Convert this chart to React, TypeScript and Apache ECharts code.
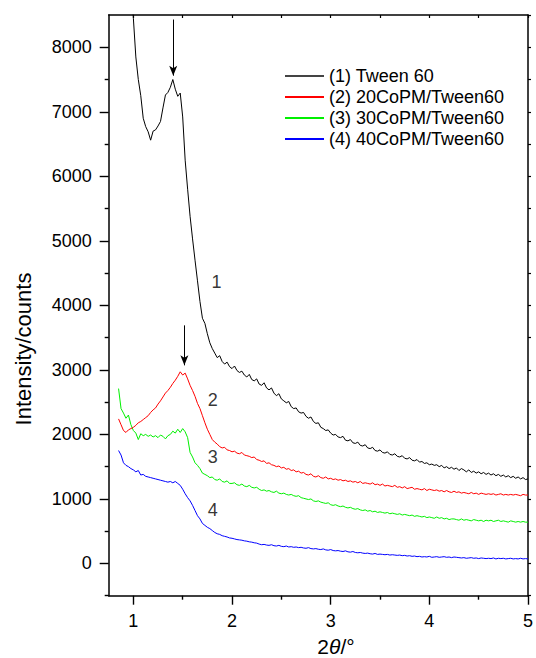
import React, { useEffect, useRef } from "react";
import * as echarts from "echarts";

// Scan grid (2θ in degrees): first point and step
const TWO_THETA_START = 0.85;
const TWO_THETA_STEP = 0.025;

const SERIES_NAMES = [
  "(1) Tween 60",
  "(2) 20CoPM/Tween60",
  "(3) 30CoPM/Tween60",
  "(4) 40CoPM/Tween60",
];
const SERIES_COLORS = ["#000000", "#ff0000", "#00f000", "#0000ff"];

const tween60 = [
  13000, 12200, 11400, 10600, 9800, 9100, 8450, 7850, 7500, 7250,
  6900, 6770, 6690, 6560, 6700, 6720, 6780, 6850, 7060, 7260,
  7300, 7380, 7500, 7350, 7240, 7290, 6920, 6250, 5800, 5380,
  5030, 4700, 4380, 4060, 3800, 3720, 3560, 3420, 3330, 3260,
  3190, 3220, 3130, 3090, 3120, 3050, 3020, 3060, 2990, 2960,
  2980, 2920, 2890, 2930, 2850, 2830, 2860, 2780, 2760, 2800,
  2720, 2690, 2720, 2640, 2600, 2630, 2550, 2520, 2490, 2510,
  2430, 2400, 2410, 2350, 2330, 2340, 2280, 2250, 2270, 2200,
  2170, 2180, 2110, 2090, 2060, 2070, 2020, 1990, 2000, 1960,
  1950, 1970, 1910, 1900, 1920, 1870, 1860, 1880, 1830, 1820,
  1840, 1790, 1780, 1800, 1750, 1740, 1760, 1720, 1710, 1730,
  1690, 1680, 1700, 1660, 1650, 1670, 1630, 1620, 1640, 1600,
  1590, 1610, 1570, 1580, 1550, 1560, 1530, 1540, 1520, 1530,
  1500, 1520, 1480, 1500, 1470, 1490, 1460, 1480, 1440, 1470,
  1450, 1420, 1450, 1410, 1430, 1400, 1420, 1390, 1410, 1380,
  1400, 1370, 1390, 1360, 1380, 1350, 1370, 1340, 1360, 1330,
  1350, 1320, 1340, 1310, 1330, 1300, 1310,
];

const copm20 = [
  2240, 2150, 2060, 2030, 2070, 2090, 2110, 2140, 2180, 2200,
  2230, 2260, 2290, 2340, 2380, 2410, 2470, 2520, 2580, 2640,
  2680, 2730, 2790, 2840, 2900, 2970, 2920, 2950, 2860, 2760,
  2680, 2590, 2480, 2400, 2290, 2180, 2080, 2000, 1920, 1880,
  1850, 1810, 1790, 1800, 1760, 1750, 1730, 1740, 1710, 1700,
  1720, 1680, 1670, 1660, 1640, 1650, 1610, 1600, 1580, 1590,
  1550, 1560, 1530, 1520, 1500, 1510, 1480, 1490, 1460, 1470,
  1440, 1450, 1420, 1430, 1400, 1410, 1380, 1370, 1390, 1350,
  1340, 1360, 1330, 1320, 1340, 1310, 1320, 1300, 1310, 1290,
  1300, 1280, 1290, 1270, 1280, 1260, 1270, 1250, 1270, 1240,
  1250, 1240, 1230, 1250, 1220, 1230, 1210, 1230, 1200, 1210,
  1200, 1190, 1210, 1180, 1190, 1170, 1190, 1160, 1170, 1180,
  1150, 1160, 1150, 1140, 1160, 1130, 1150, 1140, 1130, 1140,
  1120, 1130, 1110, 1130, 1110, 1100, 1120, 1100, 1110, 1090,
  1100, 1090, 1080, 1100, 1080, 1090, 1070, 1090, 1080, 1070,
  1080, 1070, 1080, 1060, 1070, 1080, 1060, 1070, 1060, 1070,
  1060, 1070, 1060, 1050, 1070, 1060, 1060,
];

const copm30 = [
  2710, 2400, 2330, 2250, 2300, 2150, 2060, 2020, 1920, 2010,
  1980, 2000, 1970, 1990, 1960, 1980, 1950, 1990, 1970, 1930,
  1980, 2000, 2050, 2020, 2080, 2030, 2090, 2040, 1950, 1720,
  1650, 1560, 1520, 1470, 1400, 1380, 1360, 1330, 1340, 1300,
  1290, 1310, 1270, 1260, 1280, 1240, 1240, 1250, 1220, 1210,
  1230, 1200, 1190, 1210, 1180, 1170, 1180, 1150, 1130, 1140,
  1120, 1130, 1110, 1100, 1120, 1090, 1080, 1090, 1070, 1060,
  1070, 1050, 1040, 1050, 1020, 1010, 1000, 990, 1000, 970,
  960, 970, 950, 940, 930, 940, 910, 900, 910, 890,
  880, 890, 870, 860, 870, 850, 840, 850, 830, 820,
  830, 810, 820, 800, 810, 790, 800, 790, 780, 790,
  770, 780, 770, 760, 770, 750, 760, 750, 740, 750,
  730, 740, 730, 720, 730, 710, 720, 710, 700, 720,
  700, 710, 690, 700, 680, 690, 690, 680, 670, 690,
  670, 680, 670, 660, 680, 670, 660, 670, 650, 670,
  660, 670, 650, 660, 670, 650, 660, 650, 640, 660,
  650, 640, 650, 640, 650, 640, 640,
];

const copm40 = [
  1750, 1680, 1560, 1520, 1500, 1470, 1450, 1420, 1440, 1370,
  1380, 1350, 1340, 1330, 1320, 1310, 1300, 1290, 1280, 1270,
  1260, 1270, 1250, 1270, 1240, 1210, 1150, 1080, 1020, 970,
  900, 820, 740, 690, 620, 590, 560, 540, 510, 480,
  460, 450, 430, 420, 410, 395, 390, 380, 370, 365,
  360, 350, 345, 335, 330, 320, 315, 300, 290, 295,
  285, 280, 290, 275, 270, 280, 265, 260, 270, 255,
  260, 250, 255, 245, 250, 240, 235, 245, 230, 225,
  230, 220, 215, 225, 210, 205, 215, 200, 195, 200,
  190, 185, 195, 180, 175, 185, 170, 165, 170, 160,
  155, 160, 150, 145, 155, 140, 145, 140, 135, 140,
  130, 135, 130, 125, 130, 120, 125, 115, 120, 110,
  115, 105, 110, 100, 105, 100, 110, 95, 100, 105,
  95, 100, 105, 95, 100, 90, 100, 95, 90, 85,
  90, 80, 85, 90, 80, 85, 75, 85, 80, 75,
  80, 75, 85, 70, 80, 75, 80, 70, 75, 80,
  70, 75, 70, 80, 70, 75, 70,
];

const SERIES_VALUES = [tween60, copm20, copm30, copm40];

// Axis settings
const X_MIN = 0.75;
const X_MAX = 5;
const X_MAJOR = [1, 2, 3, 4, 5];
const X_MINOR = [1.5, 2.5, 3.5, 4.5];
const X_ALL = [1, 1.5, 2, 2.5, 3, 3.5, 4, 4.5, 5];
const Y_MIN = -500;
const Y_MAX = 8500;
const Y_MAJOR = [0, 1000, 2000, 3000, 4000, 5000, 6000, 7000, 8000];
const Y_MINOR = [-500, 500, 1500, 2500, 3500, 4500, 5500, 6500, 7500];
const Y_ALL = [-500, 0, 500, 1000, 1500, 2000, 2500, 3000, 3500, 4000, 4500, 5000, 5500, 6000, 6500, 7000, 7500, 8000, 8500];

// Annotations (data coordinates)
const ARROWS = [
  { x: 1.404, from: 8430, to: 7560 },
  { x: 1.517, from: 3690, to: 3070 },
];
const CURVE_LABELS = [
  { text: "1", x: 1.842, y: 4360 },
  { text: "2", x: 1.805, y: 2530 },
  { text: "3", x: 1.805, y: 1650 },
  { text: "4", x: 1.805, y: 825 },
];

const FONT = "'Liberation Sans', Arial, Helvetica, sans-serif";

export default function App() {
  const ref = useRef<HTMLDivElement>(null);

  useEffect(() => {
    if (!ref.current) return;
    const chart = echarts.init(ref.current, undefined, { renderer: "svg" });

    const toPairs = (ys: number[]) =>
      ys.map((y, i) => [+(TWO_THETA_START + i * TWO_THETA_STEP).toFixed(3), y]);

    const axisLine = { show: true, onZero: false, lineStyle: { color: "#000", width: 1.5 } };
    const noLine = { show: false, onZero: false };

    const series: any[] = SERIES_VALUES.map((vals, k) => ({
      name: SERIES_NAMES[k],
      type: "line",
      data: toPairs(vals),
      showSymbol: false,
      symbol: "none",
      clip: true,
      silent: true,
      xAxisIndex: 0,
      yAxisIndex: 0,
      lineStyle: { color: SERIES_COLORS[k], width: 1 },
      itemStyle: { color: SERIES_COLORS[k] },
      z: 10 - k,
    }));

    series[0].markLine = {
      silent: true,
      symbol: ["none", "arrow"],
      symbolSize: [6, 10],
      label: { show: false },
      lineStyle: { color: "#000", width: 1, type: "solid" },
      emphasis: { disabled: true },
      data: ARROWS.map((a) => [
        { coord: [a.x, a.from] },
        { coord: [a.x, a.to] },
      ]),
    };

    series.push({
      type: "scatter",
      silent: true,
      symbolSize: 0,
      xAxisIndex: 0,
      yAxisIndex: 0,
      data: CURVE_LABELS.map((l) => ({ value: [l.x, l.y], name: l.text })),
      label: {
        show: true,
        position: "inside",
        formatter: (p: any) => p.name,
        color: "#000",
        fontSize: 18,
        fontFamily: FONT,
      },
      z: 20,
    });

    chart.setOption({
      animation: false,
      backgroundColor: "#fff",
      grid: { left: 108.7, right: 6, top: 15, bottom: 62.3, containLabel: false },
      legend: {
        show: true,
        orient: "vertical",
        left: 285,
        top: 67,
        padding: 0,
        icon: "rect",
        itemWidth: 39,
        itemHeight: 2,
        itemGap: 3,
        selectedMode: false,
        textStyle: { fontSize: 18, fontFamily: FONT, color: "#000" },
        data: SERIES_NAMES.map((n, k) => ({
          name: n,
          itemStyle: { color: k === 0 ? "#444" : SERIES_COLORS[k] },
        })),
      },
      xAxis: [
        {
          type: "value",
          min: X_MIN,
          max: X_MAX,
          position: "bottom",
          axisLine,
          splitLine: { show: false },
          axisTick: {
            show: true,
            inside: false,
            length: 9,
            customValues: X_MAJOR,
            lineStyle: { color: "#000", width: 1.4 },
          },
          axisLabel: {
            show: true,
            customValues: X_MAJOR,
            margin: 16,
            fontSize: 18,
            fontFamily: FONT,
            color: "#000",
            formatter: (v: number) => String(v),
          },
        },
        {
          type: "value",
          min: X_MIN,
          max: X_MAX,
          position: "bottom",
          axisLine: noLine,
          splitLine: { show: false },
          axisTick: {
            show: true,
            inside: false,
            length: 4,
            customValues: X_MINOR,
            lineStyle: { color: "#000", width: 1.4 },
          },
          axisLabel: { show: false },
        },
        {
          type: "value",
          min: X_MIN,
          max: X_MAX,
          position: "top",
          axisLine,
          splitLine: { show: false },
          axisTick: {
            show: true,
            inside: true,
            length: 3,
            customValues: X_ALL,
            lineStyle: { color: "#000", width: 1.2 },
          },
          axisLabel: { show: false },
        },
      ],
      yAxis: [
        {
          type: "value",
          min: Y_MIN,
          max: Y_MAX,
          interval: 500,
          position: "left",
          axisLine,
          splitLine: { show: false },
          axisTick: {
            show: true,
            inside: false,
            length: 9,
            customValues: Y_MAJOR,
            lineStyle: { color: "#000", width: 1.4 },
          },
          axisLabel: {
            show: true,
            customValues: Y_MAJOR,
            margin: 17,
            fontSize: 18,
            fontFamily: FONT,
            color: "#000",
            formatter: (v: number) => String(v),
          },
        },
        {
          type: "value",
          min: Y_MIN,
          max: Y_MAX,
          interval: 500,
          position: "left",
          axisLine: noLine,
          splitLine: { show: false },
          axisTick: {
            show: true,
            inside: false,
            length: 4,
            customValues: Y_MINOR,
            lineStyle: { color: "#000", width: 1.4 },
          },
          axisLabel: { show: false },
        },
        {
          type: "value",
          min: Y_MIN,
          max: Y_MAX,
          interval: 500,
          position: "right",
          axisLine,
          splitLine: { show: false },
          axisTick: {
            show: true,
            inside: false,
            length: 3,
            customValues: Y_ALL,
            lineStyle: { color: "#000", width: 1.2 },
          },
          axisLabel: { show: false },
        },
      ],
      graphic: [
        {
          type: "text",
          x: 23,
          y: 349,
          rotation: Math.PI / 2,
          style: {
            text: "Intensity/counts",
            fontSize: 22,
            fontFamily: FONT,
            fill: "#000",
            align: "center",
            verticalAlign: "middle",
          },
        },
        {
          type: "text",
          x: 336,
          y: 646,
          style: {
            text: "{n|2}{t|θ}{n|/°}",
            align: "center",
            verticalAlign: "middle",
            rich: {
              n: { fontSize: 21, lineHeight: 21, fontFamily: FONT, fill: "#000" },
              t: { fontSize: 21, lineHeight: 21, fontFamily: FONT, fontStyle: "italic", fill: "#000" },
            },
          },
        },
      ],
      series,
    });

    return () => chart.dispose();
  }, []);

  return (
    <div
      ref={ref}
      style={{ position: "fixed", left: 0, top: 0, width: 536, height: 658, background: "#fff" }}
    />
  );
}
